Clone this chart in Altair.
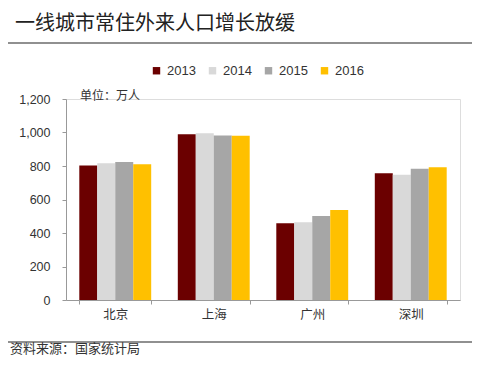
import altair as alt
import pandas as pd

cities = ["北京", "上海", "广州", "深圳"]
years = ["2013", "2014", "2015", "2016"]
values = {
    "2013": [803, 990, 458, 756],
    "2014": [817, 996, 464, 748],
    "2015": [824, 982, 501, 784],
    "2016": [810, 980, 537, 792],
}
colors = ["#6B0000", "#D9D9D9", "#A6A6A6", "#FFC000"]
title_text = "一线城市常住外来人口增长放缓"
unit_text = "单位：万人"
source_text = "资料来源：国家统计局"

rows = []
for y in years:
    for c, v in zip(cities, values[y]):
        rows.append({"city": c, "year": y, "value": v})
df = pd.DataFrame(rows)

FONT = "Noto Sans CJK SC"
one = pd.DataFrame([{"a": 1}])

bars = alt.Chart(df).mark_bar().encode(
    x=alt.X("city:N", sort=cities, title=None,
            scale=alt.Scale(paddingInner=0.27, paddingOuter=0.135),
            axis=alt.Axis(labelAngle=0, labelFontSize=12.5, labelColor="#333",
                          labelFont=FONT, domainColor="#999", tickColor="#999",
                          tickBand="extent", tickSize=4, labelPadding=4)),
    xOffset=alt.XOffset("year:N", sort=years),
    y=alt.Y("value:Q", title=None,
            scale=alt.Scale(domain=[0, 1200]),
            axis=alt.Axis(values=[0, 200, 400, 600, 800, 1000, 1200], format=",.0f",
                          grid=False, labelFontSize=12.5, labelColor="#333",
                          labelFont="Liberation Sans", domainColor="#999",
                          tickColor="#999", tickSize=4, labelPadding=12)),
    color=alt.Color("year:N", sort=years,
                    scale=alt.Scale(domain=years, range=colors),
                    legend=alt.Legend(orient="none", legendX=84, legendY=-35,
                                      direction="horizontal", title=None,
                                      symbolType="square", symbolSize=55,
                                      symbolStrokeWidth=0,
                                      labelFontSize=13, labelFont="Liberation Sans",
                                      labelColor="#333", columnPadding=10,
                                      labelOffset=4)),
)

title = alt.Chart(one).mark_text(align="left", baseline="middle", fontSize=20,
                                 font=FONT, color="#222").encode(
    x=alt.value(-51), y=alt.value(-75), text=alt.value(title_text))

rule_top = alt.Chart(one).mark_rule(color="#222", strokeWidth=1.2).encode(
    x=alt.value(-58), x2=alt.value(407), y=alt.value(-56))

unit = alt.Chart(one).mark_text(align="left", baseline="middle", fontSize=12,
                                font=FONT, color="#333").encode(
    x=alt.value(14), y=alt.value(-3), text=alt.value(unit_text))

rule_bottom = alt.Chart(one).mark_rule(color="#222", strokeWidth=1.2).encode(
    x=alt.value(-58), x2=alt.value(407), y=alt.value(243))

source = alt.Chart(one).mark_text(align="left", baseline="middle", fontSize=13,
                                  font=FONT, color="#333").encode(
    x=alt.value(-56), y=alt.value(250), text=alt.value(source_text))

chart = alt.layer(bars, title, rule_top, unit, rule_bottom, source).properties(
    width=394, height=201,
    autosize=alt.AutoSizeParams(type="none"),
    padding={"left": 58, "top": 91, "right": 12, "bottom": 57},
).configure_view(stroke=None).configure(background="white")

chart.save("out.html", embed_options={"renderer": "svg", "actions": False})
